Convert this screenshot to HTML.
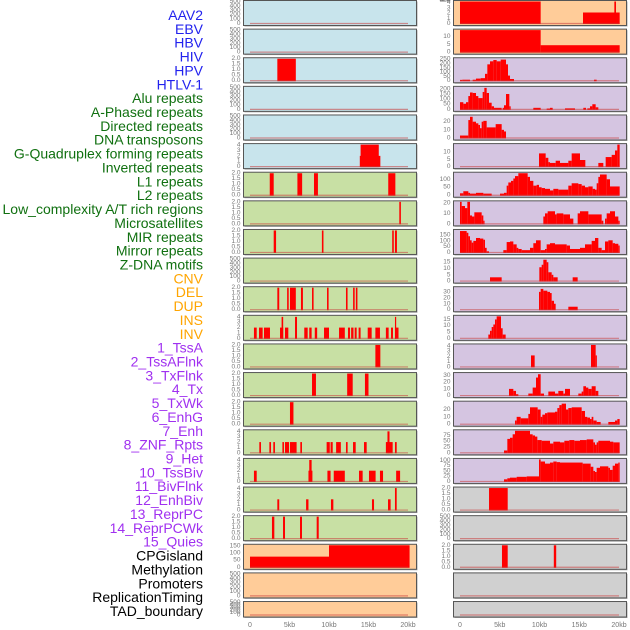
<!DOCTYPE html>
<html><head><meta charset="utf-8"><style>
html,body{margin:0;padding:0;background:#fff;width:630px;height:630px;overflow:hidden}
svg{display:block;font-family:"Liberation Sans",sans-serif}
</style></head><body>
<svg id="chart" width="630" height="630" viewBox="0 0 630 630"></svg>
<script>
const labels = ["AAV2","EBV","HBV","HIV","HPV","HTLV-1","Alu repeats","A-Phased repeats","Directed repeats","DNA transposons","G-Quadruplex forming repeats","Inverted repeats","L1 repeats","L2 repeats","Low_complexity A/T rich regions","Microsatellites","MIR repeats","Mirror repeats","Z-DNA motifs","CNV","DEL","DUP","INS","INV","1_TssA","2_TssAFlnk","3_TxFlnk","4_Tx","5_TxWk","6_EnhG","7_Enh","8_ZNF_Rpts","9_Het","10_TssBiv","11_BivFlnk","12_EnhBiv","13_ReprPC","14_ReprPCWk","15_Quies","CPGisland","Methylation","Promoters","ReplicationTiming","TAD_boundary"];
const labelGroups = ["b","b","b","b","b","b","g","g","g","g","g","g","g","g","g","g","g","g","g","o","o","o","o","o","p","p","p","p","p","p","p","p","p","p","p","p","p","p","p","k","k","k","k","k"];
const panelYMax = [500,500,2,500,500,4.1,2,2,2,500,2,4.1,2,2,2,4.1,4.1,4.1,2,155,500,500,
 4.2,14,255,215,27,15,138,21,190,17.5,37,17.5,4.2,33,30,95,105,2,500,2];
const panelTicks = [
 [0,100,200,300,400,500],[0,100,200,300,400,500],[0,0.5,1,1.5,2],[0,100,200,300,400,500],[0,100,200,300,400,500],[0,1,2,3,4],
 [0,0.5,1,1.5,2],[0,0.5,1,1.5,2],[0,0.5,1,1.5,2],[0,100,200,300,400,500],[0,0.5,1,1.5,2],[0,1,2,3,4],[0,0.5,1,1.5,2],[0,0.5,1,1.5,2],[0,0.5,1,1.5,2],[0,1,2,3,4],[0,1,2,3,4],[0,1,2,3,4],[0,0.5,1,1.5,2],[0,50,100,150],[0,100,200,300,400,500],[0,100,200,300,400,500],
 [0,1,2,3,4],[0,5,10],[0,50,100,150,200,250],[0,50,100,150,200],[0,10,20],[0,5,10],[0,50,100],[0,10,20],[0,50,100,150],[0,5,10,15],[0,10,20,30],[0,5,10,15],[0,1,2,3,4],[0,10,20,30],[0,10,20],[0,25,50,75],[0,25,50,75,100],[0,0.5,1,1.5,2],[0,100,200,300,400,500],[0,0.5,1,1.5,2],[0,0.5,1,1.5,2],[0,100,200,300,400,500]];
const panelSegments = [
 [],[],[[3.46,5.8,2]],[],[],[[13.9,16.5,2],[14.0,16.3,4.1]],
 [[2.5,3.0,2],[6.0,6.6,2],[8.1,8.6,2],[17.5,18.4,2]],
 [[18.9,19.1,2]],
 [[3.0,3.3,2],[9.1,9.3,2],[18.0,18.2,2],[18.35,18.6,2]],
 [],
 [[3.46,3.7,2],[4.7,4.9,2],[5.06,5.8,2],[6.45,6.7,2],[7.85,8.05,2],[9.75,9.95,2],[12.15,12.35,2],[13.05,13.25,2],[13.4,13.6,2]],
 [[0.5,0.85,2],[1.14,1.6,2],[1.77,2.53,2],[3.8,4.2,2],[4.0,4.2,4],[4.43,4.85,2],[5.7,5.95,4],[6.87,7.3,2],[7.5,7.8,2],[8.2,8.5,2],[9.37,10.0,2],[11.27,12.0,2],[12.4,12.66,2],[12.8,13.1,2],[13.25,13.5,2],[13.75,14.0,2],[14.9,15.4,2],[15.87,16.45,2],[17.2,17.55,2],[17.85,18.1,2],[18.35,18.8,2],[18.35,18.5,4]],
 [[15.87,16.5,2]],
 [[7.85,8.35,2],[12.3,13.0,2],[14.55,15.0,2]],
 [[5.06,5.5,2]],
 [[1.18,1.39,2],[2.45,2.66,2],[2.95,3.16,2],[4.1,4.3,2],[4.43,4.94,2],[5.06,5.9,2],[6.37,6.58,2],[9.7,10.1,2],[10.2,10.47,2],[10.9,11.5,2],[12.15,12.36,2],[13.04,13.38,2],[14.43,14.77,2],[17.2,18.06,2],[17.4,17.66,4],[18.35,18.57,2]],
 [[0.5,0.85,2],[7.4,7.9,2],[7.5,7.8,4],[9.8,10.2,2],[10.6,12.0,2],[13.8,14.26,2],[15.06,15.9,2],[16.45,16.84,2],[18.5,19.0,2]],
 [[3.46,3.7,2],[7.1,7.4,2],[10.25,10.55,2],[15.44,15.7,2],[17.47,17.8,2],[18.35,18.57,4.1]],
 [[2.78,3.08,2],[4.18,4.43,2],[6.33,6.58,2],[8.44,8.7,2]],
 [[0,10,75],[10,20.2,155]],
 [],[],
 "z",[[90,332,4.2],[459,569,2.1],[553,558,4.2]],
 "z",[[90,332,14],[332,569,4.4]],
 "z",[[90,97,10],[97,120,12],[128,138,12],[138,152,25],[152,165,30],[165,172,80],[172,180,190],[180,190,225],[190,200,240],[200,212,225],[212,228,245],[228,234,190],[234,240,60],[240,252,20],[492,500,12]],
 "z",[[90,100,70],[100,108,55],[108,115,70],[115,120,130],[120,128,165],[128,138,160],[138,145,130],[145,158,110],[158,163,170],[163,170,210],[170,177,160],[177,185,65],[185,192,30],[192,215,15],[218,222,15],[222,228,40],[228,238,150],[238,242,30],[310,332,15],[350,360,8],[360,368,15],[405,435,10],[460,468,15],[472,480,10],[480,487,30],[487,497,50],[497,505,20]],
 "z",[[90,115,3],[115,120,22],[120,128,26],[128,138,20],[138,145,18],[145,150,16],[150,155,12],[155,160,20],[160,170,21],[170,197,13],[197,215,17],[215,222,10],[222,228,8]],
 "z",[[327,347,9],[347,355,6],[355,360,3],[360,377,2.5],[377,390,4],[390,415,2.5],[415,425,4],[425,450,9],[450,466,4.5],[505,520,2.5],[527,545,6.5],[545,555,8],[555,562,11],[562,569,15]],
 "z",[[90,100,12],[100,115,25],[115,120,15],[120,138,10],[138,160,15],[160,185,10],[210,222,10],[222,230,15],[230,235,60],[235,243,80],[243,250,90],[250,255,105],[255,265,120],[265,293,138],[293,300,115],[300,310,90],[310,320,60],[320,327,65],[327,335,50],[335,345,45],[345,360,40],[360,370,30],[370,385,40],[385,415,35],[415,425,60],[425,445,75],[445,455,70],[455,465,60],[465,475,50],[475,488,55],[488,495,40],[495,500,35],[500,505,75],[505,510,115],[510,530,130],[530,540,100],[540,569,55]],
 "z",[[90,95,21],[95,105,17],[105,112,15],[112,120,21],[120,126,8],[126,133,7],[133,155,11],[155,160,8],[160,162,3],[340,345,7],[345,353,10],[353,375,12],[375,380,9],[380,400,10],[400,420,9],[420,430,5],[443,450,10],[450,475,12],[475,515,9],[515,520,3],[525,530,5],[530,540,10],[540,555,12],[555,565,7],[565,569,3]],
 "z",[[90,110,185],[110,115,170],[115,120,140],[120,125,105],[125,130,85],[130,138,100],[138,150,125],[150,160,120],[160,165,110],[165,170,40],[170,177,10],[220,230,20],[230,240,90],[240,250,95],[250,260,70],[260,265,40],[265,275,30],[275,300,20],[300,310,40],[310,318,80],[318,332,105],[332,345,20],[345,350,30],[350,360,70],[360,375,80],[375,410,70],[410,420,60],[420,450,30],[450,465,40],[465,485,70],[485,495,100],[495,505,125],[505,515,40],[515,525,20],[525,535,95],[535,548,105],[548,555,80],[555,565,75],[565,569,60]],
 "z",[[180,215,3],[328,335,11],[335,340,13],[340,350,17],[350,355,15],[355,365,7],[365,370,5],[370,383,3],[428,443,3]],
 "z",[[327,332,30],[332,340,35],[340,352,32],[352,360,30],[360,365,28],[365,372,15],[372,377,10],[415,443,5]],
 "z",[[175,180,3],[180,185,6],[185,190,9],[190,195,11],[195,200,15],[200,213,17.5],[213,218,8],[218,227,3]],
 "z",[[303,314,2.2],[483,497,4.2],[497,500,2.2]],
 "z",[[237,250,10],[250,258,7],[258,265,2],[295,308,3],[308,318,12],[318,324,27],[324,332,32],[332,342,3],[355,375,6],[375,385,3],[385,400,7],[400,405,3],[405,420,10],[445,455,3],[455,460,6],[460,468,14],[468,475,12],[475,485,10],[485,497,14],[497,505,7]],
 "z",[[255,260,5],[260,272,10],[272,295,8],[295,300,14],[300,323,23],[323,332,20],[332,337,10],[337,345,13],[345,352,15],[352,375,16],[375,382,17],[382,388,22],[388,395,26],[395,408,28],[408,415,20],[415,425,22],[425,455,23],[455,465,18],[465,472,10],[472,480,9],[480,485,7],[485,490,10],[490,500,5],[500,512,3],[535,555,3],[555,562,5],[562,569,7]],
 "z",[[222,232,10],[232,240,60],[240,248,65],[248,255,80],[255,300,95],[300,308,80],[308,315,75],[315,322,70],[322,335,55],[335,360,52],[360,370,40],[370,390,48],[390,403,45],[403,418,52],[418,433,55],[433,450,52],[450,470,55],[470,490,58],[490,495,45],[495,500,35],[500,505,45],[505,540,52],[540,550,48],[550,569,45]],
 "z",[[222,232,10],[232,240,15],[240,260,18],[260,290,22],[290,327,24],[327,332,105],[332,345,95],[345,360,85],[360,370,90],[370,380,95],[380,390,92],[390,458,90],[458,482,85],[482,490,70],[490,495,50],[495,500,45],[500,510,65],[510,535,72],[535,540,65],[540,548,55],[548,555,75],[555,565,85],[565,569,90]],
 [[3.65,6.0,2]],[],[[5.28,6.0,2],[11.8,12.1,2]],
 [[7.63,7.88,2],[8.39,8.64,2],[9.56,9.94,2],[15.35,15.64,2]],
 []
].filter(s=>s!=="z");
const xTickValues = [0,5,10,15,20];
const xTickLabels = ["0","5kb","10kb","15kb","20kb"];

const groupColor = {b:"#2222ee",g:"#107010",o:"#ffa500",p:"#a030f0",k:"#000"};
const NS = "http://www.w3.org/2000/svg";
const svg = document.getElementById("chart");
function mk(tag, attrs, parent){const e=document.createElementNS(NS,tag);for(const k in attrs)e.setAttribute(k,attrs[k]);(parent||svg).appendChild(e);return e;}
function zxToKb(z){return (z-90)/23.85;}
function bgFor(i){
  if(i<6) return "#c8e4ec"; if(i<19) return "#c8e0a4"; if(i<24) return "#ffcc99"; if(i<39) return "#d5c5e1"; return "#d0d0d0";
}
function fmtTick(v,max){return max<=2.5 ? v.toFixed(1) : String(v);}

labels.forEach((t,i)=>{
  const tx = mk("text",{x:203,y:15+i*13.86,"text-anchor":"end","dominant-baseline":"central","font-size":"14",fill:groupColor[labelGroups[i]]});
  tx.textContent=t;
  
  
});

for(let i=0;i<44;i++){
  const col = i<22?0:1, row = i%22;
  const px = col===0?243.5:453.5, pw = 173;
  const py = row*28.62+0.5, ph = row===21?15.5:25;
  const x0 = col===0?250:460, xs = col===0?7.9:7.95;
  const xScale = kb=>x0+kb*xs;
  const ybase = py+ph-2, ytop = py+1;
  const ymax = panelYMax[i];
  const yScale = v=>ybase-(v/ymax)*(ybase-ytop);
  const g = mk("g",{});
  
  
  mk("rect",{x:px+1,y:py+1,width:pw,height:ph,fill:"#aaa"},g);
  mk("rect",{x:px,y:py,width:pw,height:ph,fill:bgFor(i),stroke:"#555","stroke-width":1},g);
  const segs = panelSegments[i];
  const useZ = (i>=22 && i<39);
  segs.forEach(s=>{
    const a = useZ?zxToKb(s[0]):s[0], b = useZ?zxToKb(s[1]):s[1];
    const xa=xScale(a), xb=xScale(b), y=Math.max(yScale(s[2]),py+0.5);
    const r = mk("rect",{x:xa,y:y,width:Math.max(xb-xa,1.2),height:ybase-y+0.5,fill:"#ff0000"},g);
    
    
  });
  mk("line",{x1:xScale(0),x2:xScale(20),y1:ybase,y2:ybase,stroke:"rgba(200,60,60,0.55)","stroke-width":1.2},g);
  panelTicks[i].forEach(v=>{
    const ty = yScale(v);
    const tt = mk("text",{x:px-3,y:ty,"text-anchor":"end","dominant-baseline":"central","font-size":"6.5",fill:"#777"},g);
    tt.textContent = fmtTick(v,ymax);
    
    
  });
}
[0,1].forEach(col=>{
  const x0 = col===0?250:460, xs = col===0?7.9:7.95;
  xTickValues.forEach((v,k)=>{
    const t = mk("text",{x:x0+v*xs,y:627,"text-anchor":"middle","font-size":"7",fill:"#777"});
    t.textContent = xTickLabels[k];
    
    
  });
});
</script>
</body></html>
